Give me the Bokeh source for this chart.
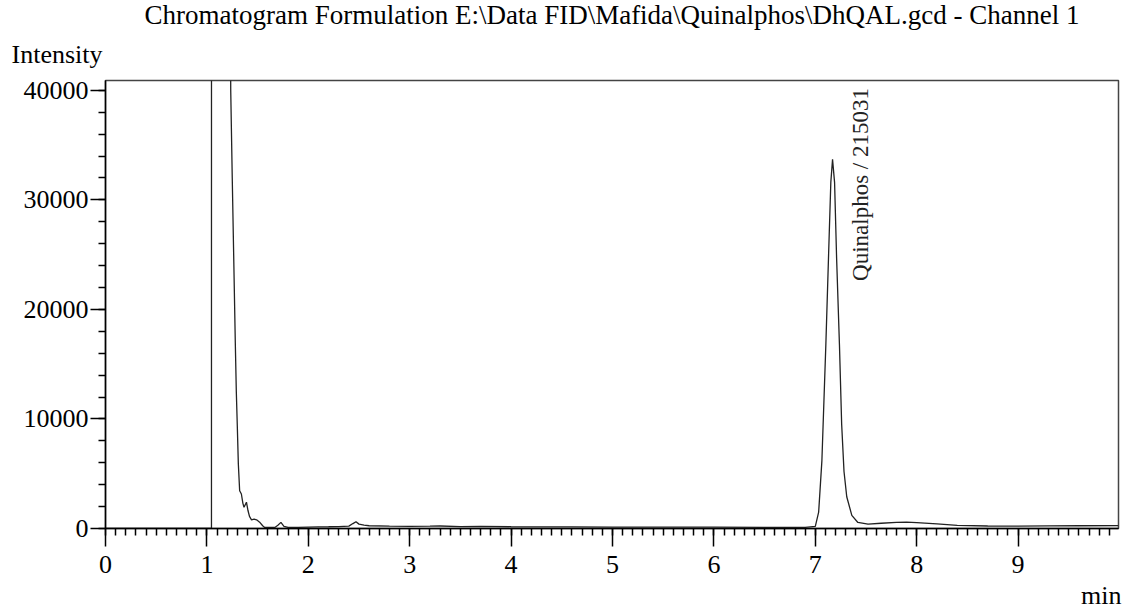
import math
from bokeh.plotting import figure
from bokeh.models import (Range1d, LinearAxis, SingleIntervalTicker, Label, Title,
                          ColumnDataSource)
from bokeh.embed import file_html
from bokeh.resources import INLINE

# ---- data ----
time_min = [0.0, 0.5, 1.0, 1.045, 1.05, 1.06, 1.12, 1.18, 1.225, 1.235, 1.25, 1.265,
            1.28, 1.29, 1.30, 1.31, 1.323, 1.34, 1.355, 1.366, 1.39, 1.405, 1.42,
            1.44, 1.465, 1.49, 1.52, 1.55, 1.57, 1.62, 1.67, 1.70, 1.73, 1.76, 1.80,
            1.9, 2.0, 2.1, 2.2, 2.3, 2.4, 2.44, 2.47, 2.5, 2.55, 2.6, 2.8, 3.0, 3.2,
            3.3, 3.5, 3.7, 4.0, 4.3, 4.6, 5.0, 5.5, 6.0, 6.5, 6.9, 7.0, 7.033, 7.065,
            7.104, 7.13, 7.153, 7.17, 7.19, 7.21, 7.238, 7.26, 7.283, 7.31, 7.36,
            7.42, 7.52, 7.65, 7.8, 7.9, 8.0, 8.2, 8.4, 8.7, 9.0, 9.3, 9.6, 9.99]
intensity = [0, 0, 0, 0, 900000, 1200000, 1500000, 1000000, 60000, 40000, 32000, 24500,
             17000, 12500, 9300, 5900, 3450, 3150, 2300, 1940, 2400, 1640, 1100,
             790, 850, 790, 580, 250, 100, 90, 100, 300, 560, 200, 100,
             110, 130, 150, 160, 180, 220, 450, 620, 400, 300, 250, 220, 200, 210,
             230, 180, 200, 160, 150, 140, 130, 120, 120, 110, 100, 200, 1500, 6200,
             16800, 24700, 31600, 33700, 31600, 24700, 16800, 9500, 5200, 2900, 1200,
             550, 400, 480, 560, 580, 540, 420, 280, 230, 220, 240, 250, 270]

title_text = "Chromatogram Formulation E:\\Data FID\\Mafida\\Quinalphos\\DhQAL.gcd - Channel 1"
y_title = "Intensity"
x_title = "min"
peak_label = "Quinalphos / 215031"
peak_label_pos = (7.45, 22600)

X_END = 9.99
Y_END = 40900
FONT = "Liberation Serif"

p = figure(width=1123, height=616, output_backend="svg", toolbar_location=None,
           x_range=Range1d(0, X_END), y_range=Range1d(0, Y_END),
           min_border_left=105, min_border_right=5, min_border_top=79,
           min_border_bottom=88, x_axis_type=None, y_axis_type=None, title=None)
p.xgrid.visible = False
p.ygrid.visible = False
p.outline_line_color = "#444444"
p.outline_line_width = 1.5
p.background_fill_color = "white"
p.border_fill_color = "white"

src = ColumnDataSource(dict(t=time_min, v=intensity))
p.line("t", "v", source=src, line_color="#222222", line_width=1.3)

# x axis: integers long ticks, 0.1 minor ticks
xa = LinearAxis(ticker=SingleIntervalTicker(interval=1, num_minor_ticks=10))
xa.major_tick_out = 18
xa.major_tick_in = 0
xa.minor_tick_out = 7
xa.minor_tick_in = 0
xa.axis_line_width = 1.5
xa.major_tick_line_width = 1.5
xa.minor_tick_line_width = 1.5
xa.major_label_text_font = FONT
xa.major_label_text_font_size = "26px"
xa.major_label_text_color = "black"
xa.major_label_standoff = 9
p.add_layout(xa, "below")

ya = LinearAxis(ticker=SingleIntervalTicker(interval=10000, num_minor_ticks=5))
ya.major_tick_out = 15
ya.major_tick_in = 0
ya.minor_tick_out = 7
ya.minor_tick_in = 0
ya.axis_line_width = 1.5
ya.major_tick_line_width = 1.5
ya.minor_tick_line_width = 1.5
ya.major_label_text_font = FONT
ya.major_label_text_font_size = "26px"
ya.major_label_text_color = "black"
ya.major_label_standoff = 2
p.add_layout(ya, "left")

# titles (outside the frame)
t_int = Title(text=y_title, align="left", offset=-94, text_font=FONT,
              text_font_size="26px", text_font_style="normal", text_color="black",
              standoff=23)
p.add_layout(t_int, "above")
t_main = Title(text=title_text, align="center", offset=0, text_font=FONT,
               text_font_size="27px", text_font_style="normal", text_color="black",
               standoff=-6)
p.add_layout(t_main, "above")
t_min = Title(text=x_title, align="right", offset=-3, text_font=FONT,
              text_font_size="26px", text_font_style="normal", text_color="black",
              standoff=6)
p.add_layout(t_min, "below")

p.add_layout(Label(x=peak_label_pos[0], y=peak_label_pos[1], text=peak_label,
                   angle=math.pi / 2, text_align="left", text_baseline="middle",
                   text_font=FONT, text_font_size="23px", text_color="#222222"))

open("out.html", "w").write(file_html(p, INLINE))
